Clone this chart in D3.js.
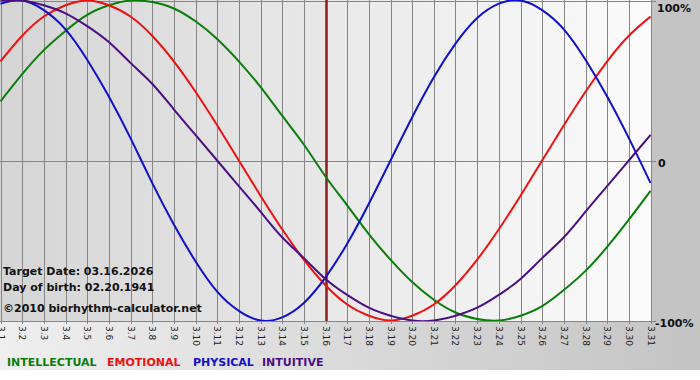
<!DOCTYPE html>
<html>
<head>
<meta charset="utf-8">
<script src="https://cdn.jsdelivr.net/npm/d3@7"></script>
<style>
  body { margin: 0; background: #fff; }
  svg { display: block; }
</style>
</head>
<body>
<script>
// days of March 2026 shown on the x axis
const dayLabels = ["3.1","3.2","3.3","3.4","3.5","3.6","3.7","3.8","3.9","3.10",
  "3.11","3.12","3.13","3.14","3.15","3.16","3.17","3.18","3.19","3.20",
  "3.21","3.22","3.23","3.24","3.25","3.26","3.27","3.28","3.29","3.30","3.31"];

// values (-1..1), one per day
const intellectual = [0.37,0.54,0.69,0.81,0.91,0.97,1.00,0.99,0.95,0.87,0.76,0.62,0.46,0.28,0.10,-0.10,
  -0.28,-0.46,-0.62,-0.76,-0.87,-0.95,-0.99,-1.00,-0.97,-0.91,-0.81,-0.69,-0.54,-0.37,-0.19];
const emotional = [0.62,0.78,0.90,0.97,1.00,0.97,0.90,0.78,0.62,0.43,0.22,0.00,-0.22,-0.43,-0.62,-0.78,
  -0.90,-0.97,-1.00,-0.97,-0.90,-0.78,-0.62,-0.43,-0.22,0.00,0.22,0.43,0.62,0.78,0.90];
const physical = [0.98,1.00,0.94,0.82,0.63,0.40,0.14,-0.14,-0.40,-0.63,-0.82,-0.94,-1.00,-0.98,-0.89,-0.73,
  -0.52,-0.27,0.00,0.27,0.52,0.73,0.89,0.98,1.00,0.94,0.82,0.63,0.40,0.14,-0.14];
const intuitive = [1.00,1.00,0.97,0.92,0.84,0.74,0.61,0.48,0.32,0.16,0.00,-0.16,-0.32,-0.48,-0.61,-0.74,
  -0.84,-0.92,-0.97,-1.00,-1.00,-0.97,-0.92,-0.84,-0.74,-0.61,-0.48,-0.32,-0.16,0.00,0.16];

const targetDay = "3.16";
const infoLines = ["Target Date: 03.16.2026", "Day of birth: 02.20.1941", "\u00a92010 biorhythm-calculator.net"];

const series = [
  {name: "INTELLECTUAL", values: intellectual, color: "#0a7d0a"},
  {name: "EMOTIONAL", values: emotional, color: "#ee1111"},
  {name: "PHYSICAL", values: physical, color: "#1010cc"},
  {name: "INTUITIVE", values: intuitive, color: "#4b0f82"}
];

const width = 700, height = 380;
const plotRight = 651, plotBottom = 321;

const svg = d3.select("body").append("svg")
  .attr("width", width)
  .attr("height", height)
  .style("font-family", "'DejaVu Sans', Verdana, sans-serif");

const defs = svg.append("defs");
const bg = defs.append("linearGradient").attr("id", "bg");
bg.append("stop").attr("offset", "0%").attr("stop-color", "#d5d5d5");
bg.append("stop").attr("offset", "100%").attr("stop-color", "#fbfbfb");
const bottomBg = defs.append("linearGradient").attr("id", "bottomBg");
bottomBg.append("stop").attr("offset", "0%").attr("stop-color", "#efefef");
bottomBg.append("stop").attr("offset", "100%").attr("stop-color", "#c4c4c4");
defs.append("clipPath").attr("id", "plotClip")
  .append("rect").attr("x", 0).attr("y", 0).attr("width", plotRight).attr("height", plotBottom);

// backgrounds
svg.append("rect").attr("x", 0).attr("y", plotBottom).attr("width", width).attr("height", 49)
  .attr("fill", "url(#bottomBg)");
svg.append("rect").attr("x", plotRight).attr("y", 0).attr("width", width - plotRight).attr("height", plotBottom + 1)
  .attr("fill", "#c4c4c4");
svg.append("rect").attr("x", 0).attr("y", 0).attr("width", plotRight).attr("height", plotBottom)
  .attr("fill", "url(#bg)");

const x = d3.scaleLinear().domain([0, dayLabels.length - 1]).range([0.5, plotRight - 0.5]);
const y = d3.scaleLinear().domain([-1, 1]).range([plotBottom - 0.5, 0.5]);

// vertical grid
svg.append("g")
  .selectAll("line")
  .data(dayLabels)
  .join("line")
  .attr("x1", (d, i) => Math.round(x(i)) + 0.5)
  .attr("x2", (d, i) => Math.round(x(i)) + 0.5)
  .attr("y1", 0)
  .attr("y2", plotBottom + 3)
  .attr("stroke", "#858585");

// horizontal lines at 100%, 0, -100%
svg.append("g")
  .selectAll("line")
  .data([1, 0, -1])
  .join("line")
  .attr("x1", 0)
  .attr("x2", plotRight + 5)
  .attr("y1", d => Math.round(y(d)) + 0.5)
  .attr("y2", d => Math.round(y(d)) + 0.5)
  .attr("stroke", "#858585");

// y labels
svg.append("g")
  .selectAll("text")
  .data([{v: 1, t: "100%"}, {v: 0, t: "0"}, {v: -1, t: "-100%"}])
  .join("text")
  .attr("x", d => d.v === 0 ? 658 : (d.v === 1 ? 657 : 655))
  .attr("y", d => d.v === 1 ? y(d.v) + 11 : y(d.v) + 6)
  .attr("font-size", 11)
  .attr("font-weight", "bold")
  .attr("fill", "#111")
  .text(d => d.t);

// x tick labels, rotated
svg.append("g")
  .selectAll("text")
  .data(dayLabels)
  .join("text")
  .attr("transform", (d, i) => `translate(${Math.round(x(i)) - 3},${plotBottom + 5}) rotate(90)`)
  .attr("font-size", 9)
  .attr("fill", "#222")
  .text(d => d);

// target date marker
const ti = dayLabels.indexOf(targetDay);
svg.append("line")
  .attr("x1", Math.round(x(ti)) + 0.5)
  .attr("x2", Math.round(x(ti)) + 0.5)
  .attr("y1", 0)
  .attr("y2", plotBottom)
  .attr("stroke", "#8a1c1c")
  .attr("stroke-width", 2.5);

// curves
const line = d3.line()
  .x((d, i) => x(i))
  .y(d => y(d))
  .curve(d3.curveNatural);

svg.append("g")
  .attr("clip-path", "url(#plotClip)")
  .selectAll("path")
  .data(series)
  .join("path")
  .attr("d", d => line(d.values))
  .attr("fill", "none")
  .attr("stroke", d => d.color)
  .attr("stroke-width", 2);

// info text
svg.append("g")
  .selectAll("text")
  .data(infoLines)
  .join("text")
  .attr("x", 3)
  .attr("y", (d, i) => [275, 291, 312][i])
  .attr("font-size", 11)
  .attr("font-weight", "bold")
  .attr("fill", "#111")
  .text(d => d);

// legend
const legendX = [7, 107, 193, 262];
svg.append("g")
  .selectAll("text")
  .data(series)
  .join("text")
  .attr("x", (d, i) => legendX[i])
  .attr("y", 366)
  .attr("font-size", 11)
  .attr("font-weight", "bold")
  .attr("fill", d => d.color)
  .text(d => d.name);
</script>
</body>
</html>
